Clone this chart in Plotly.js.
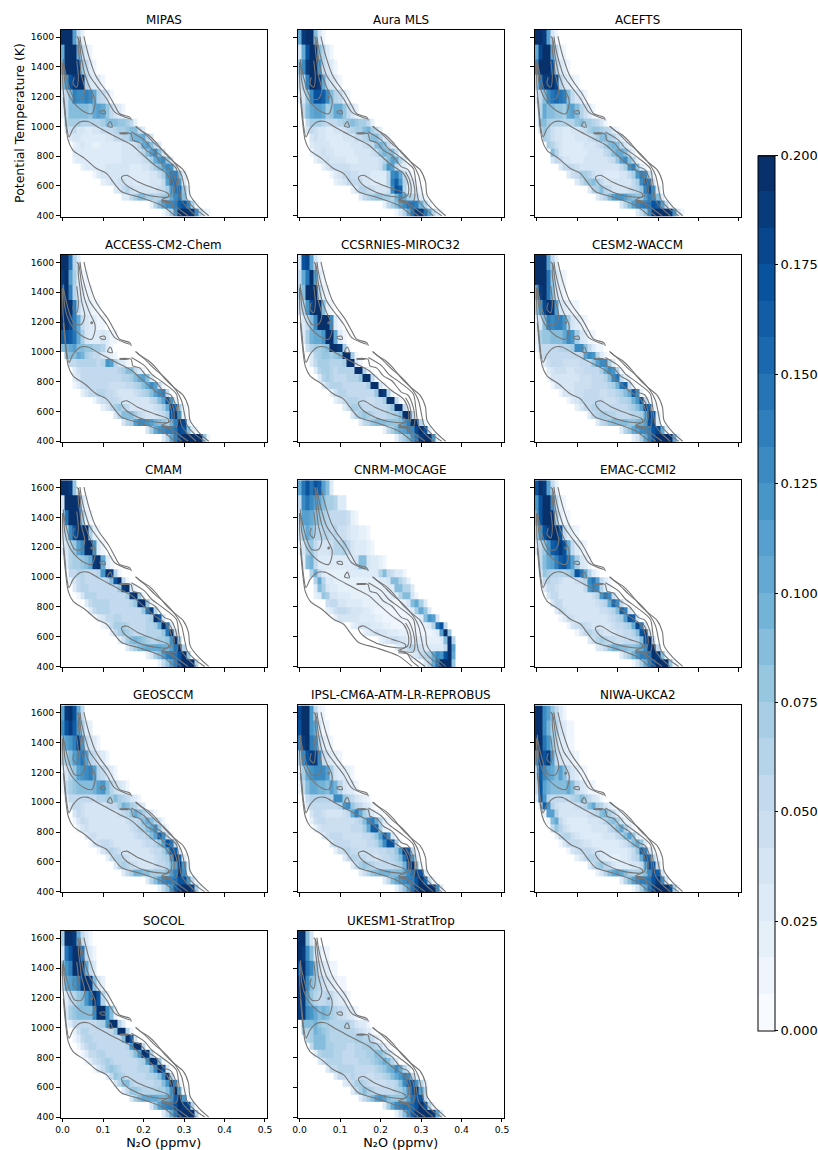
<!DOCTYPE html>
<html><head><meta charset="utf-8">
<script src="https://cdn.plot.ly/plotly-3.0.1.min.js"></script>
<style>html,body{margin:0;padding:0;background:#fff}</style></head>
<body><div id="chart" style="width:818px;height:1150px"></div>
<script>
// Potential temperature bin edges (K) and N2O bin edges (ppmv)
const thetaEdges=[395,450,500,550,600,650,700,750,800,850,900,950,1000,1050,1150,1250,1350,1450,1550,1650];
const n2oEdges=Array.from({length:52},(_,i)=>-0.005+i*0.01);
const xTicks=[0,0.1,0.2,0.3,0.4,0.5];
const xTickText=['0.0','0.1','0.2','0.3','0.4','0.5'];
const yTicks=[400,600,800,1000,1200,1400,1600];
const cbTicks=[0,0.025,0.05,0.075,0.1,0.125,0.15,0.175,0.2];
const cbTickText=['0.000','0.025','0.050','0.075','0.100','0.125','0.150','0.175','0.200'];
const titles=['MIPAS','Aura MLS','ACEFTS','ACCESS-CM2-Chem','CCSRNIES-MIROC32','CESM2-WACCM','CMAM','CNRM-MOCAGE','EMAC-CCMI2','GEOSCCM','IPSL-CM6A-ATM-LR-REPROBUS','NIWA-UKCA2','SOCOL','UKESM1-StratTrop'];

// Each row, top to bottom: [first column index, values in 0.001 units ...]
const MIPAS=[[0,200,200,200,115,50,20],[0,105,200,200,200,100,50,30,15],[0,100,200,200,200,185,80,50,30,15],[0,70,120,170,185,195,200,60,40,30,25,15],[0,25,50,85,140,130,130,135,130,100,60,50,35,15],[0,20,50,90,90,90,90,90,80,105,110,100,80,50,40,30,15],
[1,60,75,75,70,65,60,60,60,65,70,85,85,85,80,80,70,50,20],[1,30,45,50,40,35,30,30,35,40,50,50,50,65,70,70,80,85,85,55,30],[2,25,35,35,30,25,25,25,30,30,35,40,50,55,60,60,90,95,95,100,60,40],[3,20,30,35,30,25,20,20,25,25,25,30,30,35,40,40,45,60,100,110,90,50,25],[3,25,30,30,25,25,25,25,25,25,30,30,30,35,35,40,40,45,60,85,115,125,85,35],[3,20,25,30,30,30,25,25,25,30,30,30,30,35,35,35,35,40,45,55,70,100,120,125,80,30],[5,20,25,30,30,30,30,35,35,35,35,35,35,30,30,30,35,40,50,70,90,110,130,120,40],[8,15,30,35,35,35,35,40,35,35,30,30,25,25,30,35,40,50,70,120,140,140,90,30],[10,20,25,35,40,45,45,40,35,30,30,30,30,35,35,40,55,110,150,150,120,30],[13,25,40,55,60,45,40,35,35,35,35,40,45,55,70,110,150,155,80,20],[15,25,30,50,70,85,90,75,70,60,60,70,80,100,130,150,90,20],[22,20,60,90,110,130,130,135,165,170,140,70,15],[25,15,40,70,120,200,200,200,190,130,60,20,10]];
const AURA=[[0,100,190,200,200,90,40,15],[0,40,100,170,200,200,90,60,30,15],[0,80,130,190,200,200,120,50,40,25,10],[0,40,60,140,200,200,190,100,50,40,30,15],[0,20,40,80,130,170,170,160,130,90,60,50,30,15],[1,50,90,100,110,110,100,70,80,100,100,80,50,40,20],
[2,50,70,75,70,60,55,55,55,60,70,80,85,80,75,70,50,20],[2,40,50,45,40,35,30,30,35,40,45,50,60,70,70,85,95,70,50,20],[3,40,45,40,35,30,30,30,30,35,40,40,50,55,60,75,85,90,60,40,15],[3,25,40,40,40,35,30,30,30,30,30,35,35,40,45,50,55,85,95,85,50,25],[3,15,35,40,45,40,35,30,30,30,30,30,35,35,35,40,45,55,80,95,90,90,50,15],[4,20,35,40,45,40,40,35,35,30,30,30,35,35,35,40,40,45,60,90,110,100,65,30],[6,20,35,45,45,45,45,45,40,40,35,35,35,35,35,45,80,120,110,50,30,25,15],[8,15,30,40,50,50,45,45,40,35,35,30,30,30,30,60,130,140,100,50,25,15],[9,20,30,40,50,55,55,50,40,35,30,30,30,30,60,135,165,120,60,30,25,10],[13,20,40,60,65,55,45,40,35,35,45,125,170,160,60,25,25,20,10],[15,30,50,60,75,80,80,75,70,65,95,130,100,70,60,50,30,10],[21,20,50,70,90,110,130,150,150,135,95,60,20],[24,15,40,60,100,150,190,190,150,100,60,30,10]];
const ACEFTS=[[0,200,200,190,110,40,15],[0,100,180,200,200,100,50,20,10],[0,130,200,200,200,170,60,35,25,10],[0,60,150,185,190,200,180,60,40,30,20,10],[0,30,50,90,130,150,155,150,140,90,50,40,25,10],[0,15,60,100,90,85,80,80,75,100,110,90,60,45,30,15],
[0,10,90,85,70,65,60,60,60,60,65,80,85,75,70,65,55,40,15],[1,40,80,60,45,40,35,30,30,35,40,45,55,70,80,80,75,65,50,25,10],[2,70,60,45,40,35,30,30,30,35,40,40,45,55,70,85,85,70,65,40,25],[3,75,65,45,35,30,30,30,30,30,35,35,40,45,50,70,90,95,85,60,40,20],[4,85,60,40,30,30,30,30,30,30,35,35,40,40,50,60,85,105,100,85,45,20],[4,40,55,50,40,35,30,30,30,35,35,40,40,40,40,45,55,80,110,125,90,60,20],[6,25,50,55,50,45,40,40,35,35,35,35,35,35,35,40,55,70,120,140,90,30,15],[8,25,45,55,75,70,60,45,40,35,30,30,30,30,35,40,55,70,120,140,130,50,15],[10,25,55,70,80,85,70,50,40,35,35,35,35,35,40,50,70,130,165,150,40],[13,30,60,75,85,60,50,40,40,40,40,45,50,60,80,140,175,130,25],[15,25,45,65,90,115,120,120,110,95,85,80,80,110,140,130,85,30],[21,40,60,90,110,130,140,150,150,170,160,110,50,15],[25,25,50,80,130,190,200,200,200,190,120,40,10]];
const ACCESS=[[0,200,200,150,60,25],[0,190,200,115,70,30,15,10],[0,175,200,140,60,30,25,15,10],[0,190,200,200,140,50,30,25,20,15,10],[0,200,200,180,140,100,50,35,30,25,15,10],[0,160,170,160,145,100,70,40,30,25,30,35,25,15,10],
[0,90,95,100,110,90,85,80,80,75,70,60,30,15],[1,80,85,85,100,95,70,60,50,50,40,30,20,10],[2,50,55,60,65,60,60,60,55,60,120,115,60,40,30,15],[3,30,45,50,50,50,50,50,50,50,50,55,60,70,90,85,50,30,15],[3,25,40,50,55,55,55,50,50,50,50,50,55,60,60,70,85,100,110,90,30],[3,15,30,45,50,55,55,50,50,50,45,45,45,45,50,55,65,75,85,100,125,110,50,15],[5,20,40,50,55,60,60,55,50,45,40,40,40,40,45,50,60,75,90,110,130,140,50],[8,15,35,45,50,55,50,45,40,35,35,35,35,35,40,50,65,90,115,170,120,20],[10,20,40,55,75,80,65,50,40,35,35,35,35,40,45,55,70,100,180,160,70,10],[13,35,60,85,90,85,70,50,45,40,40,40,45,55,75,170,190,120,20],[15,40,60,75,110,125,130,120,110,95,85,80,75,95,140,200,180,30],[21,35,70,100,120,130,135,140,150,180,170,90,30,15],[25,30,60,100,140,180,200,200,200,200,200,80,15]];
const CCSRNIES=[[0,40,170,180,110,40,10],[0,50,100,150,200,110,30,15],[0,60,90,200,200,200,60,20,10],[0,40,60,120,180,200,200,90,20,10],[1,25,50,90,130,200,200,200,130,30,10],[1,30,70,95,100,100,120,200,200,100,30,10],
[2,45,60,70,75,80,90,200,200,190,70,15],[3,30,60,75,80,80,70,80,90,200,200,70,15],[3,25,50,70,75,70,60,60,65,70,200,200,40,10],[4,30,65,70,70,60,55,60,60,60,60,200,200,60,10],[5,30,60,70,65,55,50,55,60,60,60,80,200,200,50,10],[6,30,50,65,65,60,55,55,55,55,55,55,70,200,200,40,10],[8,20,45,60,60,55,50,50,50,50,50,55,80,200,190,60,10],[9,20,40,55,65,65,60,50,50,45,45,50,55,70,200,200,50,10],[11,25,45,70,75,60,50,50,50,50,55,55,60,80,200,200,50,10],[13,35,60,75,80,70,60,55,55,55,60,65,70,90,200,200,50],[15,30,50,60,80,85,90,85,80,80,80,90,110,140,200,200,60,10],[21,20,50,70,85,100,115,125,130,180,200,170,30],[24,20,50,70,90,120,150,190,200,200,120,20]];
const CESM2=[[0,200,200,200,110,50,20],[0,200,200,200,150,80,40,20,10],[0,100,190,200,150,90,35,20,10],[0,70,120,180,200,190,110,35,25,20,15,10],[0,20,40,85,140,130,140,140,120,70,35,25,20,10],[0,20,70,80,80,85,90,90,100,130,120,70,35,25,15,10],
[0,10,50,55,50,55,55,60,60,65,70,130,130,90,50,25,15,10],[1,25,50,55,50,50,50,50,50,50,50,55,110,130,120,60,30,15],[2,30,45,50,50,50,45,45,45,45,50,50,55,80,110,130,130,70,25],[3,25,40,45,45,45,40,40,45,45,50,50,50,55,70,100,130,120,60,15],[3,10,35,40,40,40,40,40,40,45,45,45,50,50,55,65,85,130,150,50,20,10],[4,15,35,40,40,40,40,45,45,45,45,50,50,50,55,60,70,95,150,165,50,15],[6,15,35,40,40,45,45,50,50,50,50,45,45,50,55,60,70,85,105,165,130,20],[8,10,30,40,50,50,55,55,50,50,45,45,45,50,60,65,75,95,120,170,50,10],[10,20,35,50,55,60,60,55,50,50,50,50,50,55,60,70,85,110,180,160,20],[13,30,50,60,70,70,65,60,55,55,55,55,60,65,75,100,180,170,30],[15,30,50,65,80,90,90,90,85,80,80,85,95,115,170,180,30],[21,30,60,80,100,115,125,130,140,175,180,100,20],[24,20,40,70,100,140,170,200,200,200,200,100,20]];
const CMAM=[[0,200,200,190,80],[0,40,200,200,200,190,40,15],[0,30,150,200,200,200,80,20,10],[0,30,60,130,170,200,200,200,70,20,10],[0,20,40,60,80,110,130,200,200,120,30,10],[1,30,60,70,75,80,90,100,190,200,100,30,10],
[2,50,55,60,60,55,55,55,60,120,200,190,60,10],[2,20,40,55,60,55,50,50,50,55,60,90,170,200,50,10],[3,30,50,60,60,55,50,50,50,50,55,55,80,190,200,40,10],[4,15,40,60,65,65,55,50,55,55,55,50,55,70,190,200,80,10],[6,30,50,60,60,60,60,55,50,50,50,55,60,80,200,200,80,10],[7,30,50,60,60,60,55,55,55,50,50,50,50,55,80,150,190,60,10],[9,25,40,50,55,60,60,55,55,50,50,50,55,60,70,200,170,40],[10,15,30,50,70,75,70,60,55,50,50,55,60,60,70,100,200,150,30],[12,20,50,70,80,75,60,55,55,55,60,60,60,65,80,150,200,50],[14,20,45,70,90,95,90,80,70,65,65,70,70,80,120,200,70],[16,30,50,70,85,95,100,100,105,100,95,95,110,150,200,60],[21,20,40,70,90,115,140,150,150,170,200,80],[24,20,50,80,110,140,180,200,200,200,60]];
const CNRM=[[0,100,150,170,150,170,160,110,85,25],[0,50,130,150,130,115,105,85,75,70,60,30,25],[0,40,110,110,100,90,80,70,60,50,50,50,50,45,20,15],[0,30,80,100,90,60,60,60,60,50,60,45,45,35,30,30,20,20,10],[0,15,40,70,80,50,40,40,40,45,60,65,70,50,35,30,30,25,20,15],[1,20,90,95,50,30,25,25,25,30,30,30,30,30,40,90,85,40,30,25,20,15],
[3,60,95,50,30,20,20,20,20,20,25,25,25,25,25,25,25,30,60,90,50,45,30,25,15],[4,60,100,60,30,25,20,20,20,20,20,20,20,20,20,20,20,25,25,40,85,85,65,45,20],[4,25,90,70,35,30,25,20,20,20,20,20,20,20,20,20,20,20,20,25,30,85,85,65,60,25],[4,20,30,80,70,40,35,30,25,25,20,20,20,20,20,20,20,20,20,20,25,30,60,85,85,40,15],[7,45,50,50,40,35,30,30,25,25,20,20,20,20,20,20,20,15,15,15,20,35,90,100,70,25],[7,20,30,45,50,50,45,40,35,35,30,25,20,15,15,15,15,15,15,15,15,20,30,75,105,80,30],[9,20,35,40,40,35,35,30,30,30,25,20,20,15,15,15,15,15,15,15,15,20,25,90,120,110,40],[13,20,30,35,40,35,30,30,25,20,20,15,15,15,15,15,15,15,15,20,30,60,150,170,50],[16,20,30,40,45,40,35,30,25,25,20,20,15,15,15,15,15,15,20,30,110,200,80],[20,20,25,35,45,45,40,35,30,30,30,25,20,20,20,20,30,90,200,60],[24,20,30,40,55,60,55,45,30,25,30,30,30,50,200,110],[28,30,40,50,60,75,100,130,120,170,200,100],[30,15,40,65,100,150,200,200,200,80]];
const EMAC=[[0,170,200,190,110,50,20],[0,120,170,200,200,130,50,20,10],[0,95,170,200,200,200,70,30,15,10],[0,60,120,170,190,200,200,170,50,30,20,10],[0,30,50,80,120,160,170,190,170,100,50,30,20,10],[1,50,90,100,110,140,160,170,150,110,70,40,25,15],
[1,40,80,75,65,60,60,60,70,90,170,150,100,60,30,15],[2,50,60,50,50,45,40,40,40,45,50,60,130,150,110,50,25,10],[2,30,55,55,45,40,40,35,35,35,40,50,120,140,130,60,20,10],[3,35,55,50,40,35,35,35,35,35,35,40,45,60,120,150,130,50,15],[4,35,55,50,40,35,35,35,35,35,40,40,45,50,60,100,155,130,50,15],[5,30,50,45,40,35,35,35,35,40,40,40,45,45,50,60,90,160,140,40,10],[6,15,30,45,45,40,40,40,40,40,40,35,40,45,50,60,75,110,170,160,40],[8,15,35,45,50,50,45,40,40,40,40,40,45,50,55,60,75,100,180,150,30],[10,15,35,50,60,55,50,45,40,40,40,45,45,50,55,65,90,170,190,40],[13,25,45,60,75,65,55,50,45,45,50,50,55,65,90,180,200,40],[15,25,40,55,80,95,95,90,85,80,80,85,100,130,190,200,50],[21,25,50,75,95,120,135,140,145,200,190,90,15],[24,15,40,70,100,140,170,200,200,200,80,15]];
const GEOSCCM=[[0,110,190,200,170,100,50],[0,130,170,190,160,120,70,30,20],[0,90,110,120,140,190,120,50,35,25,15],[0,60,75,90,110,130,150,110,60,50,40,30,15],[0,15,40,60,80,110,120,130,140,110,60,50,35,25,15],[0,15,50,70,80,85,90,90,85,95,110,120,90,60,45,35,30,15],
[1,30,50,55,55,55,55,55,55,60,65,70,75,90,75,60,50,40,30,15],[2,30,50,50,45,40,40,40,40,40,45,50,55,75,95,90,70,60,40,25],[3,35,50,45,40,35,35,35,35,35,40,40,45,50,60,80,100,85,75,50,25,15],[3,15,40,50,45,40,35,35,35,35,35,35,40,40,45,50,55,65,85,105,90,65,35,15],[4,20,40,45,40,35,35,35,35,35,35,35,40,40,45,50,60,70,85,100,125,80,40,15],[6,30,45,45,40,35,35,35,35,35,35,40,40,45,50,55,65,85,115,160,130,50,15],[7,15,35,45,50,50,45,40,40,35,35,35,40,40,45,50,55,65,80,110,170,150,50],[9,15,35,50,60,55,45,40,40,35,35,35,35,40,45,50,55,70,100,175,160,40],[11,20,45,65,60,50,45,40,40,35,35,35,40,45,50,60,75,115,190,160,30],[13,30,60,75,65,55,45,40,40,40,40,45,50,55,65,85,110,190,120,20],[15,30,50,75,95,95,90,85,75,70,70,75,85,110,140,200,130,20],[21,30,60,85,110,125,135,140,145,175,170,120,50,15],[24,20,50,80,120,160,190,200,200,180,70,15]];
const IPSL=[[0,180,200,200,120,50,20,10],[0,170,200,200,120,100,40,15,10],[0,140,190,200,140,130,60,30,20,10],[0,60,130,170,190,190,130,50,35,25,20,10],[0,20,70,100,120,130,125,130,115,70,35,30,25,20,10],[0,15,50,90,100,100,95,95,90,115,95,60,40,30,25,15],
[1,15,50,60,60,60,60,60,65,130,130,80,60,50,40,30,20,10],[2,40,55,55,50,50,50,50,50,60,120,130,80,60,50,40,25,15],[3,40,50,50,45,40,40,40,40,45,50,100,140,100,70,50,30,15,10],[3,20,45,50,50,45,45,45,45,45,45,45,50,60,90,130,140,100,60,25,10],[4,20,40,45,45,45,45,45,45,45,50,50,55,70,100,160,160,70,20,10],[6,25,45,50,50,50,45,45,45,45,45,50,55,60,80,115,165,130,40,10],[8,35,50,55,55,50,45,45,45,45,50,55,65,90,130,175,170,70,15],[9,20,45,55,60,55,50,45,45,45,45,45,50,55,60,65,80,120,185,170,50,15],[11,30,55,65,65,55,50,45,45,40,45,50,55,60,70,90,150,200,120,25],[13,30,55,70,80,70,60,55,50,50,50,55,60,75,95,160,200,90,15],[15,25,45,60,80,90,95,95,95,85,85,90,105,125,150,190,170,30],[21,30,55,85,105,120,130,140,140,170,200,160,50,15],[24,20,50,80,115,150,180,200,200,200,200,130,30]];
const NIWA=[[0,200,200,130,110,80,50,30,15],[0,200,200,130,95,70,60,40,25,15,10],[0,190,200,150,120,80,50,30,25,15,10],[0,120,190,170,190,110,50,40,30,25,20,10],[0,60,160,130,110,100,90,110,90,50,35,25,15,10],[0,50,170,110,95,85,85,85,85,100,90,50,35,25,15,10],
[0,25,170,120,60,50,50,50,50,55,60,70,90,75,55,40,30,15],[1,25,160,120,60,45,40,40,40,40,45,50,60,85,100,70,60,40,25,10],[2,20,110,115,60,40,35,35,35,35,35,40,45,50,60,90,95,70,50,25,10],[3,15,90,105,50,35,30,30,30,30,30,35,35,40,45,60,80,90,70,45,20,10],[4,50,80,65,45,35,30,30,30,30,30,35,35,40,40,50,60,85,100,70,40,15],[5,20,50,60,60,45,35,30,30,30,30,30,30,35,35,40,50,60,85,110,80,30,10],[6,15,40,50,55,55,45,40,35,30,30,25,25,25,30,30,35,45,60,85,105,80,25],[8,15,35,45,50,55,55,45,40,30,25,25,25,25,25,30,40,50,80,160,140,40,10],[10,20,40,50,60,60,50,40,30,25,20,20,25,30,40,50,60,100,170,160,60,15],[13,25,50,75,80,60,50,40,30,30,30,30,35,40,55,100,175,170,50],[15,20,40,60,85,100,110,100,85,75,65,65,70,90,130,170,160,40],[21,30,60,85,110,125,135,140,150,170,190,130,40],[24,15,40,70,105,150,180,200,200,200,180,70,15]];
const SOCOL=[[0,70,200,200,190,100,50,30,10],[0,40,150,170,200,200,150,50,30,10],[0,80,120,140,200,200,190,100,50,30],[0,30,100,110,120,140,190,200,190,90,40,20],[1,25,55,65,80,85,120,150,200,170,60,20],[1,40,70,80,85,85,85,90,125,200,200,130,90,20],
[1,10,30,50,55,55,55,55,55,60,75,120,200,200,60,25],[3,20,45,60,60,55,55,50,50,50,55,80,200,200,60,15],[3,15,30,50,60,60,55,50,50,50,50,50,55,90,200,170,40],[4,15,35,50,60,60,55,50,50,50,50,50,55,60,120,200,200,50],[5,15,30,55,55,60,60,55,50,50,50,50,55,60,90,120,200,190,60],[6,15,25,45,50,60,75,60,55,50,50,50,55,55,60,70,120,200,190,80,15],[8,15,40,55,70,80,70,60,50,50,50,55,60,60,65,90,125,200,170,40],[11,30,55,80,75,65,55,50,50,55,55,60,65,75,90,130,200,60],[13,35,60,85,85,65,55,50,55,55,55,60,65,85,120,200,140,20],[15,25,50,80,80,70,65,60,60,65,70,75,85,120,200,100,15],[17,40,70,90,100,105,105,100,95,95,100,120,160,200,120,15],[22,40,80,110,125,135,150,170,200,190,180,60],[25,30,60,100,150,190,200,200,200,60]];
const UKESM=[[0,200,200,90,35],[0,200,190,130,85,40,25,15,10],[0,170,200,150,130,80,45,30,25,15,10],[0,200,200,130,90,70,60,45,35,30,20,15,10],[0,190,190,110,80,60,50,55,60,50,40,30,25,15],[0,190,190,130,120,100,90,95,85,70,65,55,45,35,25,15],
[1,90,85,85,95,80,70,70,65,60,60,65,60,50,40,30,25,15],[1,60,60,75,95,90,80,70,65,60,60,60,65,60,55,45,40,30,15],[2,60,70,85,85,90,75,65,60,60,60,60,60,70,70,65,60,50,30,15],[3,50,85,85,85,70,75,60,60,60,55,55,60,65,70,75,75,65,55,30,15],[4,30,60,75,75,75,60,60,55,55,55,60,60,65,70,75,85,90,70,45,20],[5,25,45,60,65,60,60,55,55,55,55,60,60,60,70,80,90,105,90,60,25],[7,25,50,55,60,60,60,60,55,50,50,50,55,60,70,80,95,100,125,100,60,25],[9,30,50,55,55,60,55,50,50,45,45,50,55,60,70,90,105,120,135,125,60,20],[11,25,40,50,70,75,60,50,45,45,45,45,50,55,65,85,130,165,170,120,60,20],[13,30,55,70,85,75,65,55,50,50,50,55,60,70,90,120,170,190,110,60],[15,25,50,70,90,115,120,110,90,80,80,80,85,110,150,175,170,50],[21,30,70,100,125,135,145,150,155,170,200,170,60,15],[24,20,50,85,125,160,190,200,200,200,190,100,25]];
const panels=[MIPAS,AURA,ACEFTS,ACCESS,CCSRNIES,CESM2,CMAM,CNRM,EMAC,GEOSCCM,IPSL,NIWA,SOCOL,UKESM];

// Reference contours, [N2O ppmv, theta K] pairs
const outerRightTop=[[.053,1604],[.059,1531],[.067,1453],[.08,1352],[.092,1296],[.113,1218],[.129,1140],[.141,1085],[.166,1062],[.17,1040]];
const outerRightLow=[[.182,1000],[.192,975],[.212,942],[.233,886],[.253,819],[.274,763],[.298,708],[.311,630],[.315,540],[.336,462],[.361,400]];
const outerLeft=[[.002,1196],[.006,1073],[.014,906],[.026,839],[.055,784],[.084,717],[.109,683],[.125,627],[.146,561],[.187,527],[.244,471],[.278,400]];
const bodyContour=[[0,1430],[.001,1274],[.006,1118],[.01,1006],[.016,929],[.026,984],[.043,1029],[.063,1033],[.088,995],[.121,946],[.15,906],[.17,877],[.195,817],[.228,739],[.257,683],[.269,605],[.267,538],[.244,505],[.265,489],[.277,438],[.294,400]];
const lobeOuter=[[.035,1604],[.04,1586],[.047,1453],[.055,1352],[.067,1263],[.08,1185],[.08,1140],[.072,1085],[.055,1096],[.03,1151],[.016,1207],[.006,1296],[.002,1453]];
const lobeInner=[[.039,1597],[.039,1519],[.043,1430],[.047,1341],[.055,1241],[.047,1185],[.03,1185],[.018,1252],[.01,1330],[.002,1430]];
const lobeCore=[[.035,1441],[.039,1330],[.035,1263],[.026,1285],[.029,1330]];
const secondTop=[[.043,1604],[.047,1531],[.055,1441],[.067,1341],[.084,1274],[.109,1185],[.129,1096],[.166,1051]];
const secondLow=[[.18,1002],[.203,951],[.228,884],[.252,829],[.281,739],[.294,672],[.302,572],[.308,505],[.326,449],[.351,400]];
const thirdLow=[[.17,962],[.203,906],[.22,851],[.248,795],[.281,717],[.287,627],[.294,505],[.31,449],[.33,400]];
const innerLow=[[.141,953],[.169,951],[.174,906],[.191,891],[.207,839],[.228,806],[.252,728],[.267,712],[.281,627],[.285,538],[.281,498],[.248,505]];
const cuspLow=[[.262,692],[.272,640],[.276,565],[.272,522]];
const bottomBundle=[[.244,492],[.268,484],[.285,450],[.31,400]];
const banana=[[.146,661],[.158,672],[.187,627],[.228,583],[.261,549],[.261,527],[.211,538],[.17,583],[.15,627],[.146,661]];
const eye=[[.092,1100],[.104,1105],[.106,1085],[.096,1087],[.092,1100]];
const triangle=[[.111,1002],[.118,1033],[.123,995],[.111,1002]];
const dot=[[.071,1200],[.074,1198],[.073,1190],[.07,1192],[.071,1200]];
const dash=[[.141,955],[.162,955],[.162,951],[.141,951]];
const contourLines=[outerRightTop,outerRightLow,outerLeft,bodyContour,lobeOuter,lobeInner,lobeCore,secondTop,secondLow,thirdLow,innerLow,cuspLow,bottomBundle,banana,eye,triangle,dot,dash];

// Layout in pixels of the page
const W=818,H=1150;
const colX=[[60.5,267],[297.5,504],[534.5,741]];
const rowY=[[29.6,216.5],[255,442],[480.2,667.2],[705.4,892.4],[930.8,1117.8]];
const blues=['#f7fbff','#deebf7','#c6dbef','#9ecae1','#6baed6','#4292c6','#2171b5','#08519c','#08306b'];
function hex(c){return [1,3,5].map(i=>parseInt(c.substr(i,2),16));}
function cm(t){const p=t*8,i=Math.min(7,Math.floor(p)),f=p-i,a=hex(blues[i]),b=hex(blues[i+1]);
  return 'rgb('+a.map((v,k)=>Math.round(v+(b[k]-v)*f)).join(',')+')';}
const N=24,colorscale=[];
for(let i=0;i<N;i++){const c=cm(i/(N-1));colorscale.push([i/N,c]);colorscale.push([(i+1)/N,c]);}

const font={family:'"DejaVu Sans",sans-serif',color:'#000'};
const cx=[],cy=[];
contourLines.forEach(l=>{l.forEach(p=>{cx.push(p[0]);cy.push(p[1]);});cx.push(null);cy.push(null);});

const data=[],annotations=[];
const layout={width:W,height:H,margin:{l:0,r:0,t:0,b:0,autoexpand:false},paper_bgcolor:'#fff',plot_bgcolor:'#fff',showlegend:false,font:{...font,size:9},annotations,
  coloraxis:{cmin:0,cmax:0.2,colorscale,colorbar:{thickness:17,thicknessmode:'pixels',len:875/H,lenmode:'fraction',x:758/W,xanchor:'left',xpad:0,y:(H-1030.5)/H,yanchor:'bottom',ypad:0,
    tickvals:cbTicks,ticktext:cbTickText,ticks:'outside',ticklen:3,tickwidth:1,tickcolor:'#000',outlinewidth:1,outlinecolor:'#000',tickfont:{...font,size:13}}}};
panels.forEach((rows,idx)=>{
  const col=idx%3,row=Math.floor(idx/3),s=idx===0?'':String(idx+1);
  const z=rows.map(r=>{const a=new Array(51).fill(null);r.slice(1).forEach((v,i)=>{a[r[0]+i]=v/1000;});return a;}).reverse();
  data.push({type:'heatmap',x:n2oEdges,y:thetaEdges,z,coloraxis:'coloraxis',zsmooth:false,hoverinfo:'skip',xaxis:'x'+s,yaxis:'y'+s});
  data.push({type:'scatter',mode:'lines',x:cx,y:cy,connectgaps:false,line:{color:'#757575',width:1.1,shape:'spline',smoothing:0.8},hoverinfo:'skip',xaxis:'x'+s,yaxis:'y'+s});
  const dx=[colX[col][0]/W,colX[col][1]/W],dy=[1-rowY[row][1]/H,1-rowY[row][0]/H];
  const common={showgrid:false,zeroline:false,showline:true,mirror:true,linecolor:'#000',linewidth:1,ticks:'outside',ticklen:3.5,tickwidth:1,tickcolor:'#000',tickfont:{...font,size:9.2}};
  const bottom=row===4;
  layout['xaxis'+s]={...common,domain:dx,range:[-0.005,0.505],anchor:'y'+s,tickmode:'array',tickvals:xTicks,ticktext:xTickText,showticklabels:bottom,
    title:bottom?{text:'N₂O (ppmv)',font:{...font,size:12.8},standoff:3}:undefined};
  layout['yaxis'+s]={...common,domain:dy,range:[395,1650],anchor:'x'+s,tickmode:'array',tickvals:yTicks,showticklabels:col===0,
    title:idx===0?{text:'Potential Temperature (K)',font:{...font,size:12.5},standoff:3}:undefined};
  annotations.push({xref:'paper',yref:'paper',x:(dx[0]+dx[1])/2,y:dy[1],xanchor:'center',yanchor:'bottom',yshift:1,showarrow:false,text:titles[idx],font:{...font,size:11.9}});
});
Plotly.newPlot('chart',data,layout,{staticPlot:true,displayModeBar:false});
</script></body></html>
